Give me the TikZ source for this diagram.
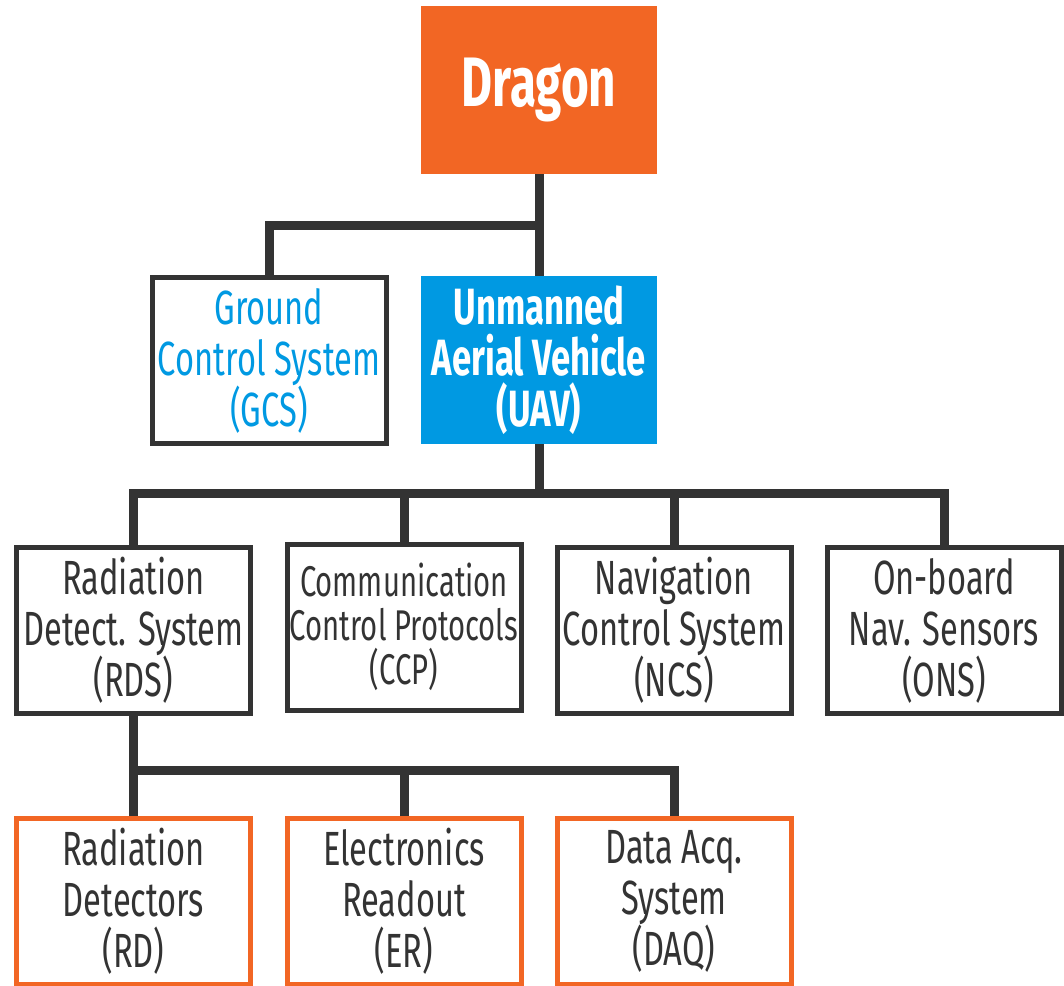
\documentclass[tikz,border=0pt]{standalone}
\usepackage{fontspec}
\setmainfont{Fira Sans}[FakeStretch=0.68]
\usetikzlibrary{calc}

\definecolor{dorange}{HTML}{F26624}
\definecolor{dblue}{HTML}{0099E2}
\definecolor{dgray}{HTML}{333333}

\begin{document}
\begin{tikzpicture}[
  x=0.5pt, y=-0.5pt,
  txt/.style={align=center, text=dgray, font=\fontsize{24}{25.5}\selectfont},
  sbox/.style={txt, draw=dgray, line width=2.5pt, minimum width=117pt, minimum height=83pt, inner sep=0pt},
  obox/.style={sbox, draw=dorange},
  conn/.style={draw=dgray, line width=4.5pt},
]
\useasboundingbox (0,0) rectangle (1064,985);

% top level
\node [fill=dorange, minimum width=118pt, minimum height=84pt, text=white,
  font=\fontsize{35}{40}\bfseries\selectfont] (dragon) at (539,90) {Dragon};
\node [txt, fill=dblue, minimum width=118pt, minimum height=84pt, text=white,
  font=\fontsize{25.5}{25.5}\bfseries\selectfont] (uav) at (539,360)
  {Unmanned\\Aerial Vehicle\\(UAV)};
\node [sbox, text=dblue] (gcs) at (269,360.5) {Ground\\Control System\\(GCS)};

% subsystems
\node [sbox] (rds) at (133.5,630.5) {Radiation\\Detect. System\\(RDS)};
\node [sbox, font=\fontsize{21.5}{22}\selectfont] (ccp) at (404,627)
  {Communication\\Control Protocols\\(CCP)};
\node [sbox] (ncs) at (674,630.5) {Navigation\\Control System\\(NCS)};
\node [sbox] (ons) at (944,630.5) {On-board\\Nav. Sensors\\(ONS)};

% detection chain
\node [obox] (rd) at (133.5,901.5) {Radiation\\Detectors\\(RD)};
\node [obox] (er) at (404,901.5) {Electronics\\Readout\\(ER)};
\node [obox] (daq) at (674,901.5) {Data Acq.\\System\\(DAQ)};

% connectors
\path (dragon.south) ++(0,51) coordinate (j1);
\path (uav.south) ++(0,49) coordinate (j2);
\path (rds.south) ++(0,54) coordinate (j3);

\draw [conn] (dragon.south) -- (uav.north);
\draw [conn] (gcs.north) |- (j1);

\draw [conn] (uav.south) -- (j2);
\draw [conn] (rds.north) |- (j2) -| (ons.north);
\draw [conn] (ccp.north) -- (ccp.north |- j2);
\draw [conn] (ncs.north) -- (ncs.north |- j2);

\draw [conn] (rds.south) -- (rd.north);
\draw [conn] (j3) -| (daq.north);
\draw [conn] (er.north) -- (er.north |- j3);
\end{tikzpicture}
\end{document}
